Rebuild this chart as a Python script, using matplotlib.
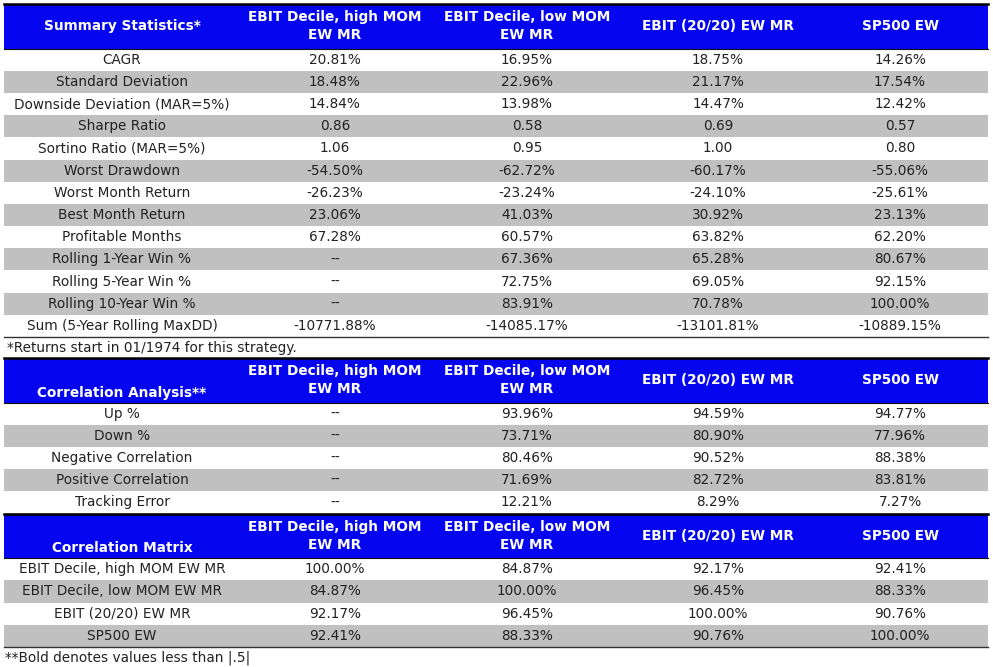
import matplotlib.pyplot as plt
from matplotlib.patches import Rectangle

# column headers
col_names = ['EBIT Decile, high MOM\nEW MR', 'EBIT Decile, low MOM\nEW MR',
             'EBIT (20/20) EW MR', 'SP500 EW']

# summary statistics
summary_labels = ['CAGR', 'Standard Deviation', 'Downside Deviation (MAR=5%)', 'Sharpe Ratio',
                  'Sortino Ratio (MAR=5%)', 'Worst Drawdown', 'Worst Month Return',
                  'Best Month Return', 'Profitable Months', 'Rolling 1-Year Win %',
                  'Rolling 5-Year Win %', 'Rolling 10-Year Win %', 'Sum (5-Year Rolling MaxDD)']
summary_high = ['20.81%', '18.48%', '14.84%', '0.86', '1.06', '-54.50%', '-26.23%', '23.06%',
                '67.28%', '--', '--', '--', '-10771.88%']
summary_low = ['16.95%', '22.96%', '13.98%', '0.58', '0.95', '-62.72%', '-23.24%', '41.03%',
               '60.57%', '67.36%', '72.75%', '83.91%', '-14085.17%']
summary_ebit = ['18.75%', '21.17%', '14.47%', '0.69', '1.00', '-60.17%', '-24.10%', '30.92%',
                '63.82%', '65.28%', '69.05%', '70.78%', '-13101.81%']
summary_sp = ['14.26%', '17.54%', '12.42%', '0.57', '0.80', '-55.06%', '-25.61%', '23.13%',
              '62.20%', '80.67%', '92.15%', '100.00%', '-10889.15%']

# correlation analysis
corr_labels = ['Up %', 'Down %', 'Negative Correlation', 'Positive Correlation', 'Tracking Error']
corr_high = ['--', '--', '--', '--', '--']
corr_low = ['93.96%', '73.71%', '80.46%', '71.69%', '12.21%']
corr_ebit = ['94.59%', '80.90%', '90.52%', '82.72%', '8.29%']
corr_sp = ['94.77%', '77.96%', '88.38%', '83.81%', '7.27%']

# correlation matrix
matrix_labels = ['EBIT Decile, high MOM EW MR', 'EBIT Decile, low MOM EW MR',
                 'EBIT (20/20) EW MR', 'SP500 EW']
matrix_high = ['100.00%', '84.87%', '92.17%', '92.41%']
matrix_low = ['84.87%', '100.00%', '96.45%', '88.33%']
matrix_ebit = ['92.17%', '96.45%', '100.00%', '90.76%']
matrix_sp = ['92.41%', '88.33%', '90.76%', '100.00%']

W, H = 993, 667
BLUE = '#0505F0'
GRAY = '#C0C0C0'
TXT = '#222222'
FS = 9.8
x_left, x_right = 4, 988
col_x = [122, 335, 527, 718, 900]
head_h = 44.5
row_h = 22.2
note_h = 21

fig = plt.figure(figsize=(W / 100, H / 100), dpi=100)
ax = fig.add_axes([0, 0, 1, 1])
ax.set_xlim(0, W)
ax.set_ylim(H, 0)
ax.axis('off')


def draw_block(y0, title, title_bottom, labels, columns):
    # header
    ax.add_patch(Rectangle((x_left, y0), x_right - x_left, head_h, color=BLUE, lw=0))
    ax.plot([x_left, x_right], [y0, y0], color='black', lw=1.8)
    ty = y0 + head_h - 10 if title_bottom else y0 + head_h / 2
    ax.text(col_x[0], ty, title, ha='center', va='center', color='white',
            fontsize=FS, fontweight='bold')
    for cx, name in zip(col_x[1:], col_names):
        ax.text(cx, y0 + head_h / 2, name, ha='center', va='center', color='white',
                fontsize=FS, fontweight='bold', linespacing=1.35, multialignment='center')
    y = y0 + head_h
    ax.plot([x_left, x_right], [y, y], color='#111111', lw=0.8)
    # rows
    for i, lab in enumerate(labels):
        if i % 2 == 1:
            ax.add_patch(Rectangle((x_left, y), x_right - x_left, row_h, color=GRAY, lw=0))
        yc = y + row_h / 2
        ax.text(col_x[0], yc, lab, ha='center', va='center', color=TXT, fontsize=FS)
        for cx, vals in zip(col_x[1:], columns):
            ax.text(cx, yc, vals[i], ha='center', va='center', color=TXT, fontsize=FS)
        y += row_h
    ax.plot([x_left, x_right], [y, y], color='#333333', lw=1.0)
    return y


y = draw_block(4, 'Summary Statistics*', False, summary_labels,
               [summary_high, summary_low, summary_ebit, summary_sp])
ax.text(7, y + note_h / 2, '*Returns start in 01/1974 for this strategy.', ha='left',
        va='center', color=TXT, fontsize=FS)
y += note_h
y = draw_block(y, 'Correlation Analysis**', True, corr_labels,
               [corr_high, corr_low, corr_ebit, corr_sp])
y = draw_block(y, 'Correlation Matrix', True, matrix_labels,
               [matrix_high, matrix_low, matrix_ebit, matrix_sp])
ax.text(5, y + 11, '**Bold denotes values less than |.5|', ha='left', va='center',
        color=TXT, fontsize=FS)

fig.savefig('out.png', dpi=100)
